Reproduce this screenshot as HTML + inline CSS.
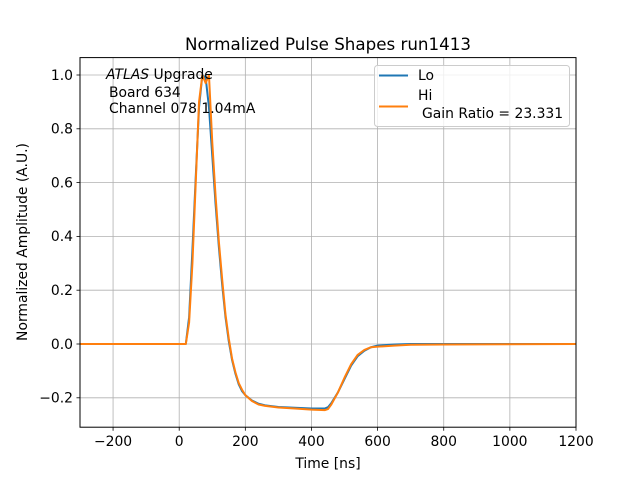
<!DOCTYPE html>
<html><head><meta charset="utf-8"><style>
body{margin:0;background:#fff}
svg text{font-family:"DejaVu Sans","Liberation Sans",sans-serif;fill:#000}
</style></head><body>
<svg id="chart" width="640" height="480" viewBox="0 0 640 480">
<rect width="640" height="480" fill="#fff"/>
<text x="328" y="50" font-size="16.7" text-anchor="middle">Normalized Pulse Shapes run1413</text>
<g id="grid"></g>
<g id="ticks"></g>
<g id="series"></g>
<rect x="80" y="57.6" width="496" height="369.6" fill="none" stroke="#000" stroke-width="1"/>
<text x="328" y="468" font-size="13.9" text-anchor="middle">Time [ns]</text>
<text transform="translate(27,242) rotate(-90)" font-size="13.9" text-anchor="middle">Normalized Amplitude (A.U.)</text>
<g font-size="13.9">
<text x="106" y="79"><tspan font-style="italic">ATLAS</tspan> Upgrade</text>
<text x="109" y="97">Board 634</text>
<text x="109" y="113">Channel 078 1.04mA</text>
</g>
<g>
<rect x="374.5" y="65.5" width="195" height="61" rx="3" fill="#fff" fill-opacity="0.8" stroke="#ccc"/>
<line x1="379" y1="75.5" x2="408" y2="75.5" stroke="#1f77b4" stroke-width="2"/>
<text x="418" y="80" font-size="13.9">Lo</text>
<line x1="379" y1="106.5" x2="408" y2="106.5" stroke="#ff7f0e" stroke-width="2"/>
<text x="418" y="100" font-size="13.9">Hi</text>
<text x="422" y="118" font-size="13.9">Gain Ratio = 23.331</text>
</g>
</svg>
<script>
const times=[-300,0,20,30,40,50,60,70,80,90,100,110,120,130,140,150,160,170,180,190,200,220,240,260,300,350,400,440,450,460,480,500,520,540,560,580,600,650,700,800,1200];
const loValues=[0,0,0,0.1,0.35,0.62,0.88,1.0,0.99,0.88,0.7,0.52,0.36,0.22,0.1,0.01,-0.06,-0.11,-0.15,-0.175,-0.19,-0.21,-0.222,-0.228,-0.234,-0.237,-0.24,-0.24,-0.235,-0.22,-0.18,-0.13,-0.08,-0.045,-0.025,-0.012,-0.006,-0.002,0,0,0];
const hiValues=[0,0,0,0.08,0.3,0.6,0.9,1.0,0.97,1.0,0.75,0.55,0.38,0.24,0.11,0.02,-0.055,-0.105,-0.145,-0.17,-0.19,-0.212,-0.225,-0.23,-0.236,-0.24,-0.244,-0.246,-0.242,-0.225,-0.18,-0.125,-0.075,-0.04,-0.022,-0.012,-0.01,-0.006,-0.003,-0.002,0];
const xTicks=[-200,0,200,400,600,800,1000,1200];
const yTicks=[-0.2,0.0,0.2,0.4,0.6,0.8,1.0];
const yTickLabels=["\u22120.2","0.0","0.2","0.4","0.6","0.8","1.0"];
const xTickLabels=["\u2212200","0","200","400","600","800","1000","1200"];
const NS="http://www.w3.org/2000/svg";
const X=t=>80+(t+300)*496/1500;
const Y=v=>344-v*269;
function mk(tag,attrs,parent){const e=document.createElementNS(NS,tag);for(const k in attrs)e.setAttribute(k,attrs[k]);parent.appendChild(e);return e;}
const grid=document.getElementById('grid'),ticks=document.getElementById('ticks'),series=document.getElementById('series');
xTicks.forEach((t,i)=>{const x=X(t);
 const g=mk('line',{x1:x,x2:x,y1:57.6,y2:427.2,stroke:'#b0b0b0','stroke-width':0.8},grid);
 
 
 mk('line',{x1:x,x2:x,y1:427.2,y2:430.7,stroke:'#000','stroke-width':0.8},ticks);
 const tx=mk('text',{x:x,y:446,'font-size':13.9,'text-anchor':'middle'},ticks);tx.textContent=xTickLabels[i];
 
 
});
yTicks.forEach((v,i)=>{const y=Y(v);
 const g=mk('line',{x1:80,x2:576,y1:y,y2:y,stroke:'#b0b0b0','stroke-width':0.8},grid);
 
 
 mk('line',{x1:76.5,x2:80,y1:y,y2:y,stroke:'#000','stroke-width':0.8},ticks);
 const tx=mk('text',{x:73,y:y+4.8,'font-size':13.9,'text-anchor':'end'},ticks);tx.textContent=yTickLabels[i];
 
 
});
function line(vals,color,name){
 const p=mk('polyline',{points:times.map((t,i)=>X(t)+','+Y(vals[i])).join(' '),fill:'none',stroke:color,'stroke-width':2,'stroke-linejoin':'round'},series);
 
 
}
line(loValues,'#1f77b4','lo-series');
line(hiValues,'#ff7f0e','hi-series');
</script>
</body></html>
